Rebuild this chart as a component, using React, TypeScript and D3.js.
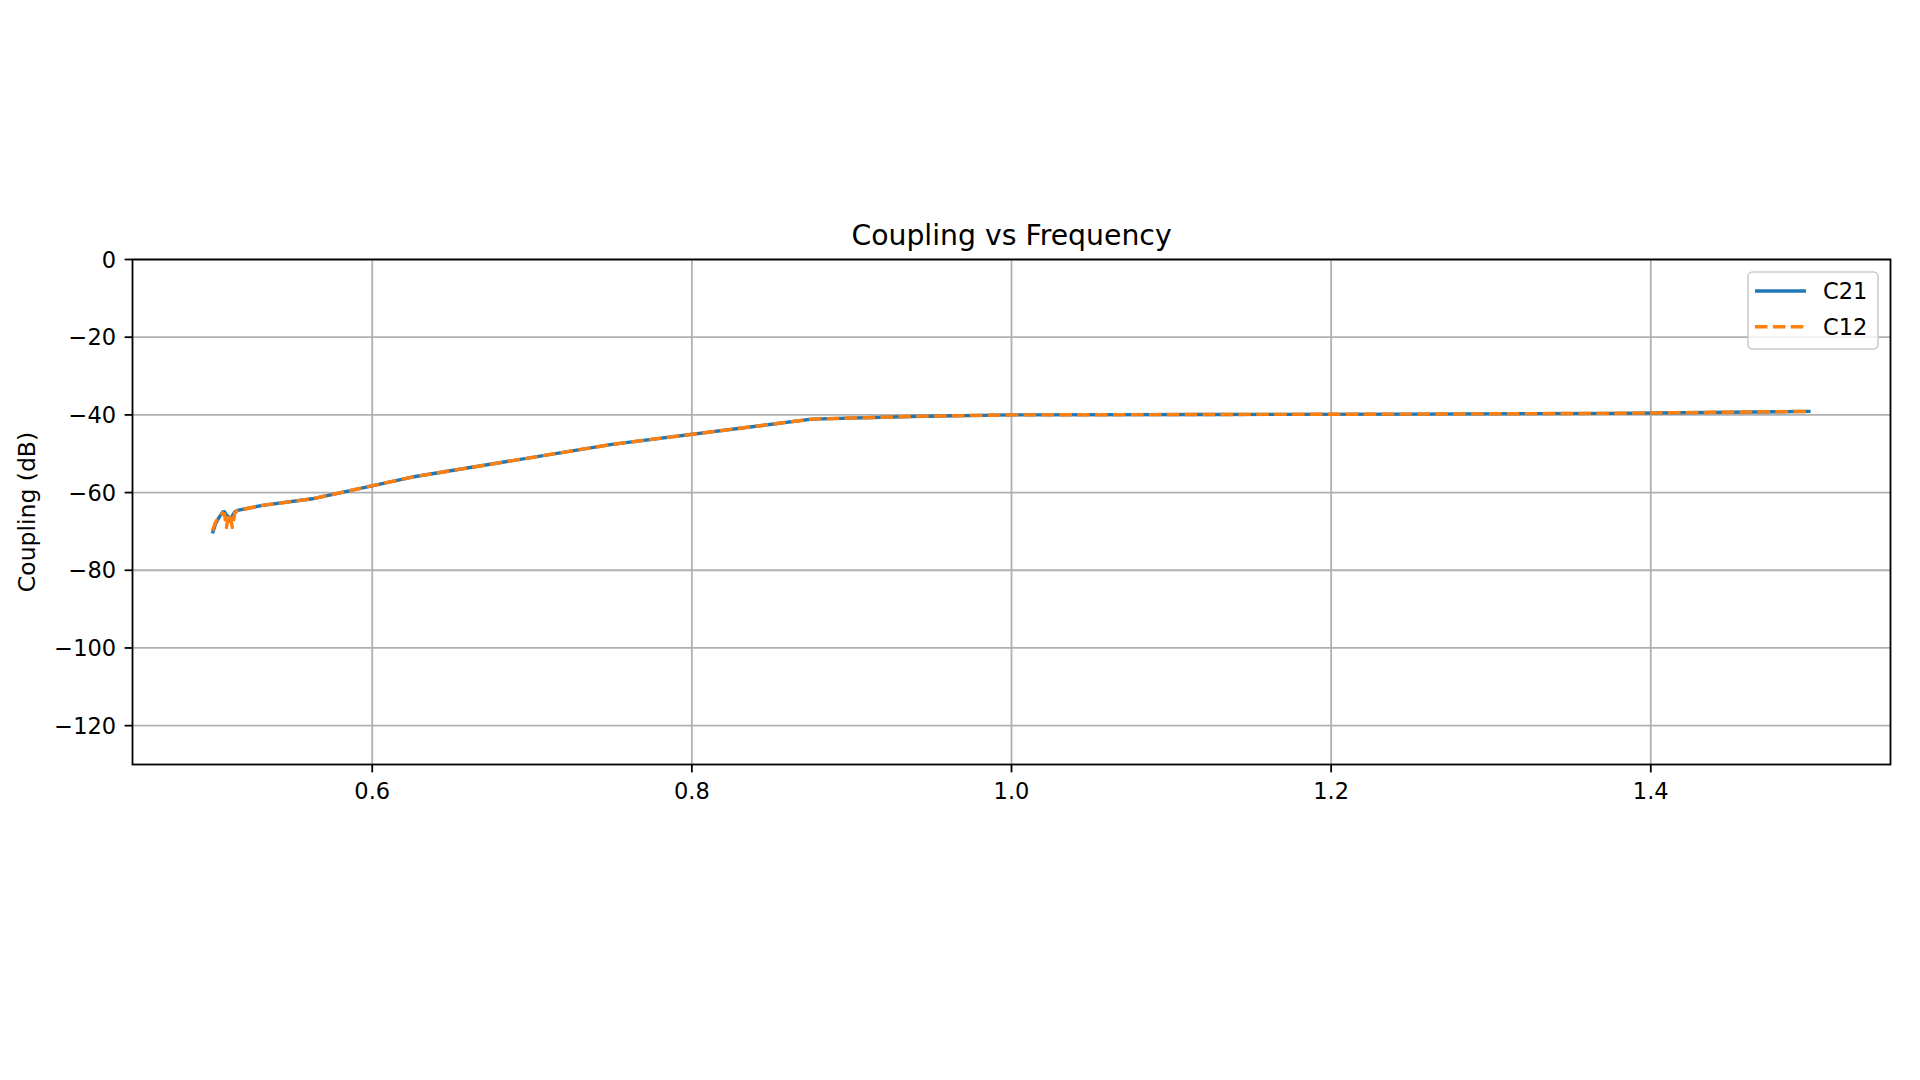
import React from "react";
import * as d3 from "d3";

const freq = [0.5, 0.502, 0.504, 0.5065, 0.5075, 0.5088, 0.51, 0.5112, 0.5124, 0.514, 0.5156, 0.5313, 0.5625, 0.625, 0.75, 0.875, 0.9375, 1.0, 1.125, 1.25, 1.375, 1.5];
const c21 = [-70.5, -68.0, -66.5, -65.0, -64.9, -65.8, -66.2, -67.3, -66.0, -65.0, -64.6, -63.3, -61.6, -56.0, -47.6, -41.1, -40.4, -40.0, -39.9, -39.8, -39.6, -39.1];
const c12 = [-69.8, -67.6, -66.4, -65.2, -65.5, -69.0, -66.0, -65.5, -69.0, -65.3, -64.6, -63.3, -61.6, -56.0, -47.6, -41.1, -40.4, -40.0, -39.9, -39.8, -39.6, -39.1];
const xTicks = [0.6, 0.8, 1.0, 1.2, 1.4];
const yTicks = [0, -20, -40, -60, -80, -100, -120];
const seriesNames = ["C21", "C12"];

const W = 1920;
const H = 1080;
const L = 132.5;
const R = 1890.5;
const T = 259.5;
const B = 764.5;
const FONT = "DejaVu Sans, sans-serif";
const FS = 22.5;
const TICK = 7.9;

export default function App() {
  const x = d3.scaleLinear().domain([0.45, 1.55]).range([L, R]);
  const y = d3.scaleLinear().domain([-130, 0]).range([B, T]);
  const line = d3
    .line<number>()
    .x((_, i) => x(freq[i]))
    .y((d) => y(d));
  const fmt = (v: number) => (v < 0 ? "\u2212" + Math.abs(v) : String(v));

  return (
    <div style={{ position: "absolute", left: 0, top: 0, width: W, height: H, background: "#fff" }}>
      <svg width={W} height={H} style={{ display: "block" }} fontFamily={FONT}>
        <rect x={0} y={0} width={W} height={H} fill="#fff" />
        <defs>
          <clipPath id="plotclip">
            <rect x={L} y={T} width={R - L} height={B - T} />
          </clipPath>
        </defs>
        {/* grid */}
        {xTicks.map((t) => (
          <line key={"gx" + t} x1={x(t)} x2={x(t)} y1={T} y2={B} stroke="#b0b0b0" strokeWidth={1.8} />
        ))}
        {yTicks.map((t) => (
          <line key={"gy" + t} x1={L} x2={R} y1={y(t)} y2={y(t)} stroke="#b0b0b0" strokeWidth={1.8} />
        ))}
        {/* lines */}
        <g clipPath="url(#plotclip)">
          <path d={line(c21) || ""} fill="none" stroke="#1f77b4" strokeWidth={3.4} strokeLinejoin="round" strokeLinecap="butt" />
          <path d={line(c12) || ""} fill="none" stroke="#ff7f0e" strokeWidth={3.4} strokeDasharray="12.5 5.4" strokeLinejoin="round" />
        </g>
        {/* frame */}
        <rect x={L} y={T} width={R - L} height={B - T} fill="none" stroke="#000" strokeWidth={1.8} />
        {/* x ticks */}
        {xTicks.map((t) => (
          <g key={"xt" + t}>
            <line x1={x(t)} x2={x(t)} y1={B} y2={B + TICK} stroke="#000" strokeWidth={1.8} />
            <text x={x(t)} y={799} textAnchor="middle" fontSize={FS} fill="#000">
              {t.toFixed(1)}
            </text>
          </g>
        ))}
        {/* y ticks */}
        {yTicks.map((t) => (
          <g key={"yt" + t}>
            <line x1={L - TICK} x2={L} y1={y(t)} y2={y(t)} stroke="#000" strokeWidth={1.8} />
            <text x={L - TICK - 8.5} y={y(t)} textAnchor="end" dominantBaseline="central" fontSize={FS} fill="#000">
              {fmt(t)}
            </text>
          </g>
        ))}
        {/* title */}
        <text x={(L + R) / 2} y={245} textAnchor="middle" fontSize={28.3} fill="#000">
          Coupling vs Frequency
        </text>
        {/* y label */}
        <text
          transform={`translate(35, ${(T + B) / 2}) rotate(-90)`}
          textAnchor="middle"
          fontSize={23.5}
          fill="#000"
        >
          Coupling (dB)
        </text>
        {/* legend */}
        <rect x={1748} y={272} width={130} height={77} rx={4.5} fill="#fff" fillOpacity={0.8} stroke="#cccccc" strokeWidth={1.6} />
        <line x1={1755} x2={1806} y1={291} y2={291} stroke="#1f77b4" strokeWidth={3.4} />
        <line x1={1755} x2={1806} y1={326.7} y2={326.7} stroke="#ff7f0e" strokeWidth={3.4} strokeDasharray="12.5 5.4" />
        <text x={1823} y={299} fontSize={FS} fill="#000">
          {seriesNames[0]}
        </text>
        <text x={1823} y={334.5} fontSize={FS} fill="#000">
          {seriesNames[1]}
        </text>
      </svg>
    </div>
  );
}
